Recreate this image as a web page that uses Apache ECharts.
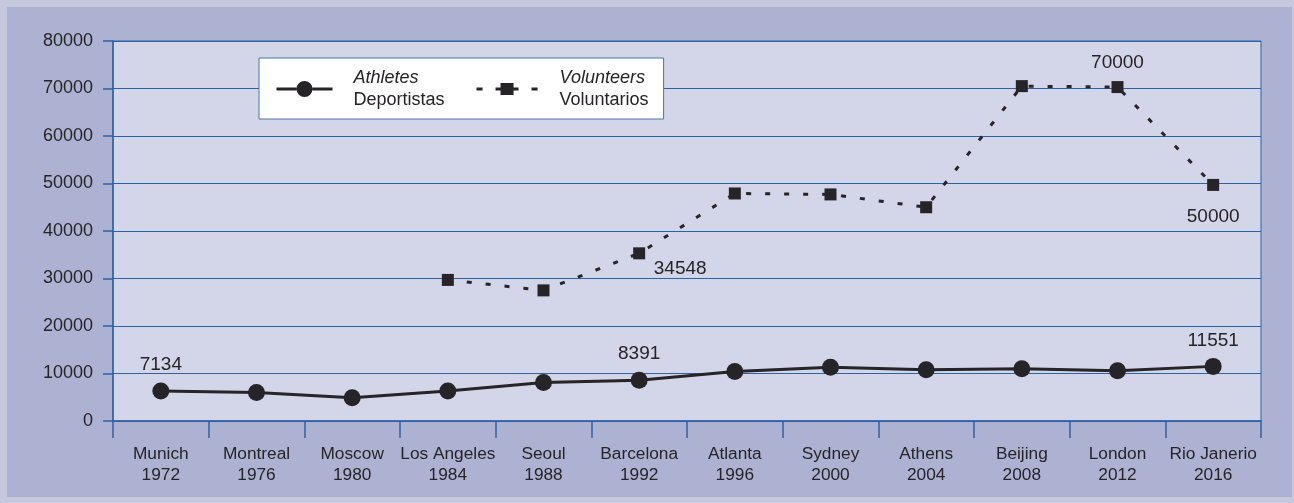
<!DOCTYPE html>
<html>
<head>
<meta charset="utf-8">
<script src="https://cdn.jsdelivr.net/npm/echarts@6/dist/echarts.min.js"></script>
<style>
  html, body { margin: 0; padding: 0; background: #c6c9de; }
  #wrap { position: absolute; left: 0; top: 0; width: 1294px; height: 503px; background: #c6c9de; }
  #chart { position: absolute; left: 7px; top: 7px; width: 1285px; height: 490px; background: #aeb2d2; }
</style>
</head>
<body>
<div id="wrap"><div id="chart"></div></div>
<script>
const cities = ['Munich', 'Montreal', 'Moscow', 'Los Angeles', 'Seoul', 'Barcelona', 'Atlanta', 'Sydney', 'Athens', 'Beijing', 'London', 'Rio Janerio'];
const years = ['1972', '1976', '1980', '1984', '1988', '1992', '1996', '2000', '2004', '2008', '2012', '2016'];
const athletes = [6330, 6000, 4900, 6300, 8100, 8600, 10400, 11300, 10800, 11000, 10600, 11500];
const volunteers = [null, null, null, 29700, 27500, 35300, 47900, 47700, 45000, 70500, 70300, 49700];
const athleteLabels = ['7134', '', '', '', '', '8391', '', '', '', '', '', '11551'];
const volunteerLabels = ['', '', '', '', '', '34548', '', '', '', '', '70000', '50000'];
const yMin = 0, yMax = 80000, yStep = 10000;
const legendNames = ['Athletes', 'Volunteers'];
const legendSub = ['Deportistas', 'Voluntarios'];

const FONT = "'Liberation Sans', Arial, sans-serif";
const INK = '#262426';
const BLUE = '#2e62a6';

const chart = echarts.init(document.getElementById('chart'), null, { renderer: 'canvas' });

const athleteData = athletes.map((v, i) => {
  const item = { value: v };
  if (athleteLabels[i]) {
    item.label = { show: true, position: 'top', distance: 8, formatter: athleteLabels[i] };
  }
  return item;
});

const volPlacement = {
  5: { position: 'inside', offset: [41, 15] },
  10: { position: 'top', distance: 9 },
  11: { position: 'bottom', distance: 16 }
};
const volunteerData = volunteers.map((v, i) => {
  const item = { value: v };
  if (volunteerLabels[i]) {
    item.label = Object.assign({ show: true, formatter: volunteerLabels[i] }, volPlacement[i]);
  }
  return item;
});

const athleteIcon = 'path://M0,6.5h20v3h-20z M36,6.5h20v3h-20z M20,8a8,8 0 1,0 16,0a8,8 0 1,0 -16,0z';
const volunteerIcon = 'path://M0,4.5h6v3h-6z M19,4.5h5v3h-5z M24,0h13v12h-13z M37,4.5h5v3h-5z M55,4.5h6v3h-6z';

const option = {
  animation: false,
  backgroundColor: 'transparent',
  textStyle: { fontFamily: FONT, color: INK },
  grid: {
    left: 106, right: 31, top: 34, bottom: 76,
    show: true, backgroundColor: '#d2d6e8', borderColor: BLUE, borderWidth: 1
  },
  legend: {
    left: 252, top: 51,
    orient: 'horizontal',
    selectedMode: false,
    backgroundColor: '#ffffff',
    borderColor: '#4a74ad',
    borderWidth: 1,
    borderRadius: 0,
    padding: [10.5, 15, 9.5, 17.5],
    itemWidth: 61,
    itemHeight: 16,
    itemGap: 32,
    symbolKeepAspect: true,
    data: [
      { name: legendNames[0], icon: athleteIcon, itemStyle: { color: INK } },
      { name: legendNames[1], icon: volunteerIcon, itemStyle: { color: INK } }
    ],
    formatter: function (name) {
      const k = legendNames.indexOf(name);
      return k === 0 ? '{a1|' + name + '}\n{b1|' + legendSub[0] + '}'
                     : '{a2|' + name + '}\n{b2|' + legendSub[1] + '}';
    },
    textStyle: {
      fontFamily: FONT, fontSize: 18, color: INK,
      rich: {
        a1: { fontStyle: 'italic', fontSize: 18, lineHeight: 23, padding: [0, 0, 0, 13.5], fontFamily: FONT, color: INK },
        b1: { fontSize: 18, lineHeight: 23, padding: [0, 0, 0, 13.5], fontFamily: FONT, color: INK },
        a2: { fontStyle: 'italic', fontSize: 18, lineHeight: 23, padding: [0, 0, 0, 17], fontFamily: FONT, color: INK },
        b2: { fontSize: 18, lineHeight: 23, padding: [0, 0, 0, 17], fontFamily: FONT, color: INK }
      }
    }
  },
  xAxis: {
    type: 'category',
    data: cities.map((c, i) => c + '\n' + years[i]),
    boundaryGap: true,
    axisLine: { show: true, lineStyle: { color: BLUE, width: 1.5 } },
    axisTick: { show: true, alignWithLabel: false, length: 17, lineStyle: { color: BLUE, width: 1.5 } },
    axisLabel: { margin: 23, fontSize: 17.3, lineHeight: 21, color: INK, fontFamily: FONT, interval: 0 },
    splitLine: { show: false }
  },
  yAxis: {
    type: 'value',
    min: yMin, max: yMax, interval: yStep,
    axisLine: { show: true, lineStyle: { color: BLUE, width: 1.5 } },
    axisTick: { show: true, length: 10, lineStyle: { color: BLUE, width: 1.5 } },
    axisLabel: { margin: 20, fontSize: 18, color: INK, fontFamily: FONT, formatter: function (v) { return String(v); } },
    splitLine: { show: true, lineStyle: { color: BLUE, width: 1.2 } }
  },
  series: [
    {
      name: legendNames[0],
      type: 'line',
      data: athleteData,
      symbol: 'circle',
      symbolSize: 17,
      lineStyle: { color: INK, width: 3 },
      itemStyle: { color: INK },
      label: { show: false, fontSize: 19, color: INK, fontFamily: FONT },
      emphasis: { disabled: true },
      z: 3
    },
    {
      name: legendNames[1],
      type: 'line',
      data: volunteerData,
      symbol: 'rect',
      symbolSize: 12,
      connectNulls: false,
      lineStyle: { color: INK, width: 3, type: [5, 14] },
      itemStyle: { color: INK },
      label: { show: false, fontSize: 19, color: INK, fontFamily: FONT },
      emphasis: { disabled: true },
      z: 3
    }
  ]
};

chart.setOption(option);
</script>
</body>
</html>
